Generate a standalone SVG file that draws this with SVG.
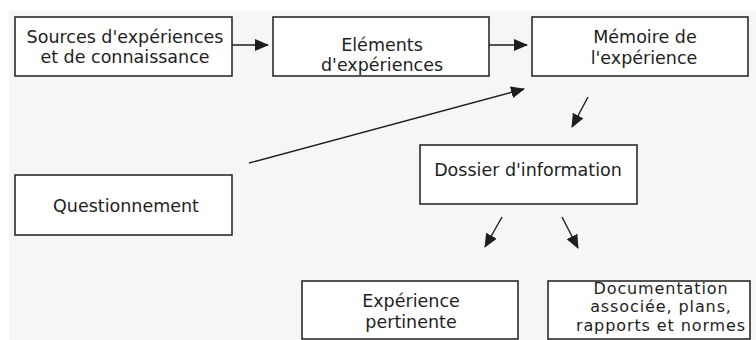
<svg xmlns="http://www.w3.org/2000/svg" width="756" height="340" viewBox="0 0 756 340">
<style>
.box{fill:#ffffff;stroke:#1e1e1e;stroke-width:1.5}
.t{font-family:"DejaVu Sans",Verdana,sans-serif;font-size:17.5px;fill:#1e1e1e;text-anchor:middle}
.s{font-size:16px;letter-spacing:0.9px}
.c{stroke:#1e1e1e;stroke-width:1.4;fill:none;marker-end:url(#ah)}
</style>
<defs>
<marker id="ah" markerUnits="userSpaceOnUse" markerWidth="14" markerHeight="12" viewBox="0 0 14 12" refX="13" refY="6" orient="auto">
<path d="M0,0 L14,6 L0,12 Z" fill="#1e1e1e"/>
</marker>
</defs>
<rect x="0" y="0" width="756" height="340" fill="#ffffff"/>
<rect x="9" y="11" width="747" height="329" fill="#f6f6f6"/>
<g id="connectors">
<line class="c" x1="232" y1="45" x2="268" y2="45"/>
<line class="c" x1="489" y1="45" x2="527" y2="45"/>
<line class="c" x1="249" y1="163" x2="524" y2="89"/>
<line class="c" x1="588" y1="97" x2="572" y2="127"/>
<line class="c" x1="502" y1="217" x2="485" y2="247"/>
<line class="c" x1="562" y1="217" x2="578" y2="248"/>
</g>
<g id="sources">
<rect class="box" x="15" y="17" width="217" height="59"/>
<text class="t" x="125" y="42.5">Sources d'expériences</text>
<text class="t" x="125" y="63">et de connaissance</text>
</g>
<g id="elements">
<rect class="box" x="273" y="17" width="216" height="59"/>
<text class="t" x="382" y="50.5">Eléments</text>
<text class="t" x="382" y="71">d'expériences</text>
</g>
<g id="memoire">
<rect class="box" x="532" y="17" width="216" height="59"/>
<text class="t" x="645" y="43">Mémoire de</text>
<text class="t" x="644" y="63.5">l'expérience</text>
</g>
<g id="questionnement">
<rect class="box" x="15" y="175" width="217" height="60"/>
<text class="t" x="126" y="212">Questionnement</text>
</g>
<g id="dossier">
<rect class="box" x="420" y="145" width="217" height="59"/>
<text class="t" x="528" y="176">Dossier d'information</text>
</g>
<g id="experience">
<rect class="box" x="302" y="281" width="216" height="58"/>
<text class="t" x="411" y="307">Expérience</text>
<text class="t" x="411" y="327.5">pertinente</text>
</g>
<g id="documentation">
<rect class="box" x="548" y="281" width="202" height="58"/>
<text class="t s" x="661" y="293.5">Documentation</text>
<text class="t s" x="661" y="312.2">associée, plans,</text>
<text class="t s" x="661" y="330.9">rapports et normes</text>
</g>
</svg>
